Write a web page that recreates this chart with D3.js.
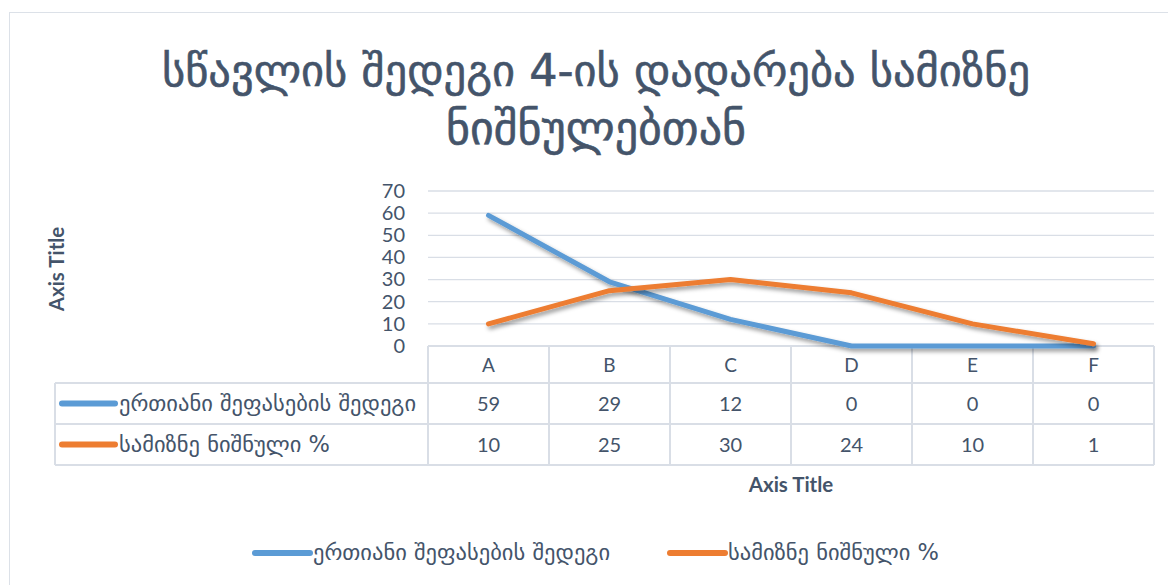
<!DOCTYPE html>
<html>
<head>
<meta charset="utf-8">
<script src="https://cdn.jsdelivr.net/npm/d3@7"></script>
<style>
  body { margin: 0; background: #fff; }
  svg text { font-family: "DejaVu Sans", "Open Sans", sans-serif; fill: #44546A; }
  svg text.num { font-family: Lato, "Open Sans", sans-serif; }
</style>
</head>
<body>
<svg id="chart" width="1168" height="585"></svg>
<script>
// chart data
const categories = ["A", "B", "C", "D", "E", "F"];
const seriesNames = ["ერთიანი შეფასების შედეგი", "სამიზნე ნიშნული %"];
const scoreValues = [59, 29, 12, 0, 0, 0];
const targetValues = [10, 25, 30, 24, 10, 1];
const yTicks = [0, 10, 20, 30, 40, 50, 60, 70];
const titleLines = ["სწავლის შედეგი 4-ის დადარება სამიზნე", "ნიშნულებთან"];
const colors = ["#5B9BD5", "#ED7D31"];

const series = [scoreValues, targetValues];

const svg = d3.select("#chart");
const gridColor = "#D9DEE6";

// outer chart border
svg.append("rect")
    .attr("x", 9.5).attr("y", 12.5)
    .attr("width", 1180).attr("height", 600)
    .attr("fill", "#fff")
    .attr("stroke", "#DCE1E8");

// shadow for the lines
const defs = svg.append("defs");
const f = defs.append("filter").attr("id", "shadow")
    .attr("x", "-10%").attr("y", "-20%").attr("width", "130%").attr("height", "160%");
f.append("feDropShadow")
    .attr("dx", 2).attr("dy", 3)
    .attr("stdDeviation", 2)
    .attr("flood-color", "#000")
    .attr("flood-opacity", 0.4);

// title
svg.append("g").selectAll("text")
    .data(titleLines)
    .join("text")
    .attr("x", 596)
    .attr("y", (d, i) => 86 + i * 58)
    .attr("text-anchor", "middle")
    .style("font-size", (d, i) => i === 0 ? "44.5px" : "46px")
    .style("stroke", "#44546A").style("stroke-width", 0.6)
    .text(d => d);

const plotLeft = 428, plotRight = 1154, plotTop = 191, plotBottom = 346;

const x = d3.scaleBand().domain(categories).range([plotLeft, plotRight]);
const y = d3.scaleLinear().domain([0, 70]).range([plotBottom, plotTop]);

// gridlines
svg.append("g").selectAll("line")
    .data(yTicks)
    .join("line")
    .attr("x1", plotLeft).attr("x2", plotRight)
    .attr("y1", d => y(d)).attr("y2", d => y(d))
    .attr("stroke", gridColor).attr("stroke-width", 1.3);

// y axis labels
const yAxis = svg.append("g")
    .attr("transform", `translate(${plotLeft - 8},0)`)
    .call(d3.axisLeft(y).tickValues(yTicks).tickSize(0).tickPadding(15));
yAxis.select(".domain").remove();
yAxis.selectAll("text")
    .attr("class", "num")
    .style("font-size", "20px")
    .attr("fill", "#44546A");

// axis titles
svg.append("text")
    .attr("class", "num")
    .attr("transform", "translate(64,269) rotate(-90)")
    .attr("text-anchor", "middle")
    .style("font-size", "20.5px").style("font-weight", "bold")
    .text("Axis Title");

svg.append("text")
    .attr("class", "num")
    .attr("x", 791).attr("y", 492)
    .attr("text-anchor", "middle")
    .style("font-size", "20.5px").style("font-weight", "bold")
    .text("Axis Title");

// data table
const tableLeft = 55;
const rowEdges = [plotBottom, 383, 424, 465];
const table = svg.append("g");

// horizontal lines
table.selectAll("line.h")
    .data(rowEdges)
    .join("line")
    .attr("class", "h")
    .attr("x1", (d, i) => i === 0 ? plotLeft : tableLeft)
    .attr("x2", plotRight)
    .attr("y1", d => d).attr("y2", d => d)
    .attr("stroke", gridColor).attr("stroke-width", 2);

// vertical lines
const colEdges = categories.map(c => x(c)).concat([plotRight]);
table.selectAll("line.v")
    .data(colEdges)
    .join("line")
    .attr("class", "v")
    .attr("x1", d => d).attr("x2", d => d)
    .attr("y1", plotBottom).attr("y2", rowEdges[3])
    .attr("stroke", gridColor).attr("stroke-width", 2);
table.append("line")
    .attr("x1", tableLeft).attr("x2", tableLeft)
    .attr("y1", rowEdges[1]).attr("y2", rowEdges[3])
    .attr("stroke", gridColor).attr("stroke-width", 2);

// category labels
table.selectAll("text.cat")
    .data(categories)
    .join("text")
    .attr("class", "num")
    .attr("x", d => x(d) + x.bandwidth() / 2)
    .attr("y", (rowEdges[0] + rowEdges[1]) / 2 + 7)
    .attr("text-anchor", "middle")
    .style("font-size", "19px")
    .text(d => d);

// values + row legends
series.forEach((vals, si) => {
    const cy = (rowEdges[si + 1] + rowEdges[si + 2]) / 2;
    table.selectAll("text.val" + si)
        .data(vals)
        .join("text")
        .attr("class", "num")
        .attr("x", (d, i) => x(categories[i]) + x.bandwidth() / 2)
        .attr("y", cy + 7)
        .attr("text-anchor", "middle")
        .style("font-size", "20px")
        .text(d => d);
    table.append("line")
        .attr("x1", 62).attr("x2", 115)
        .attr("y1", cy).attr("y2", cy)
        .attr("stroke", colors[si]).attr("stroke-width", 6)
        .attr("stroke-linecap", "round");
    table.append("text")
        .attr("x", 119).attr("y", cy + 7)
        .style("font-size", "22.5px")
        .text(seriesNames[si]);
});

// lines
const line = d3.line()
    .x((d, i) => x(categories[i]) + x.bandwidth() / 2)
    .y(d => y(d));

svg.append("g").selectAll("path")
    .data(series)
    .join("path")
    .attr("d", d => line(d))
    .attr("fill", "none")
    .attr("stroke", (d, i) => colors[i])
    .attr("stroke-width", 5)
    .attr("stroke-linecap", "round")
    .attr("stroke-linejoin", "round")
    .attr("filter", "url(#shadow)");

// legend
const legendX = [255, 670];
const legend = svg.append("g");
seriesNames.forEach((name, i) => {
    legend.append("line")
        .attr("x1", legendX[i]).attr("x2", legendX[i] + 55)
        .attr("y1", 553).attr("y2", 553)
        .attr("stroke", colors[i]).attr("stroke-width", 6)
        .attr("stroke-linecap", "round");
    legend.append("text")
        .attr("x", legendX[i] + 58).attr("y", 560)
        .style("font-size", "22.5px")
        .text(name);
});
</script>
</body>
</html>
